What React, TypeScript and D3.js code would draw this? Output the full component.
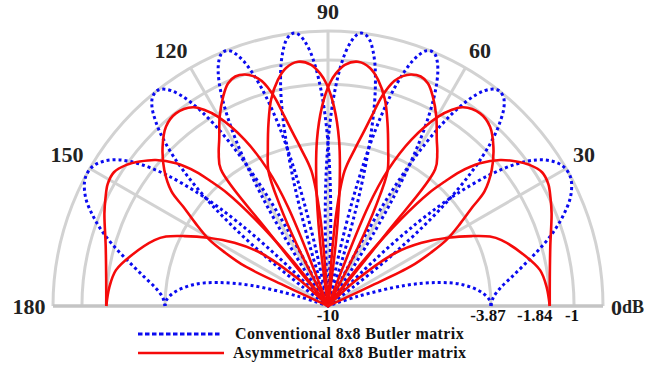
import React from 'react';
import * as d3 from 'd3';

// angles in degrees (0 = right, 90 = broadside), values in dB
const ANGLE_TICKS = [30, 60, 90, 120, 150, 180];
const RING_VALUES = [-3.87, -1.84, -1, 0];
const RING_LABEL_VALUES = [-10, -3.87, -1.84, -1];
const RING_LABELS = ['-10', '-3.87', '-1.84', '-1'];
const LEGEND = ['Conventional 8x8 Butler matrix', 'Asymmetrical 8x8 Butler matrix'];

// conventional matrix, beams 1R..4R and mirrored 1L..4L
const CONV_1R = [[72,-10],[73,-7.66],[74,-5.92],[75,-4.53],[76,-3.35],[77,-2.38],[78,-1.62],[79,-1.0],[80,-0.55],[81,-0.22],[82,-0.05],[83,0],[84,-0.09],[85,-0.33],[86,-0.69],[87,-1.22],[88,-1.92],[89,-2.79],[90,-3.87],[91,-5.2],[92,-6.84],[93,-8.9],[93.6,-10]];
const CONV_1L = [[86.4,-10],[87,-8.9],[88,-6.84],[89,-5.2],[90,-3.87],[91,-2.79],[92,-1.92],[93,-1.22],[94,-0.69],[95,-0.33],[96,-0.09],[97,0],[98,-0.05],[99,-0.22],[100,-0.55],[101,-1.0],[102,-1.62],[103,-2.38],[104,-3.35],[105,-4.53],[106,-5.92],[107,-7.66],[108,-10]];
const CONV_2R = [[55.95,-10],[57,-7.92],[58,-6.35],[59,-5.02],[60,-3.87],[61,-2.91],[62,-2.12],[63,-1.46],[64,-0.93],[65,-0.52],[66,-0.23],[67,-0.05],[68,0],[69,-0.06],[70,-0.25],[71,-0.56],[72,-1.01],[73,-1.6],[74,-2.35],[75,-3.29],[76,-4.49],[77,-5.86],[78,-7.62],[79.05,-10]];
const CONV_2L = [[100.95,-10],[102,-7.62],[103,-5.86],[104,-4.49],[105,-3.29],[106,-2.35],[107,-1.6],[108,-1.01],[109,-0.56],[110,-0.25],[111,-0.06],[112,0],[113,-0.05],[114,-0.23],[115,-0.52],[116,-0.93],[117,-1.46],[118,-2.12],[119,-2.91],[120,-3.87],[121,-5.02],[122,-6.35],[123,-7.92],[124.05,-10]];
const CONV_3R = [[35.9,-10],[37,-8.4],[38,-7.15],[39,-6.07],[40,-5.1],[41,-4.2],[42,-3.43],[43,-2.73],[44,-2.11],[45,-1.58],[46,-1.13],[47,-0.77],[48,-0.45],[49,-0.22],[50,-0.07],[51.3,0],[52,-0.02],[53,-0.12],[54,-0.31],[55,-0.6],[56,-1.0],[57,-1.51],[58,-2.14],[59,-2.92],[60,-3.87],[61,-5.04],[62,-6.41],[63,-8.1],[63.9,-10]];
const CONV_3L = [[116.1,-10],[117,-8.1],[118,-6.41],[119,-5.04],[120,-3.87],[121,-2.92],[122,-2.14],[123,-1.51],[124,-1.0],[125,-0.6],[126,-0.31],[127,-0.12],[128,-0.02],[128.7,0],[130,-0.07],[131,-0.22],[132,-0.45],[133,-0.77],[134,-1.13],[135,-1.58],[136,-2.11],[137,-2.73],[138,-3.43],[139,-4.2],[140,-5.1],[141,-6.07],[142,-7.15],[143,-8.4],[144.1,-10]];
const CONV_4R = [[0,-3.87],[3,-3.78],[6,-3.51],[9,-3.07],[12,-2.55],[15,-1.95],[18,-1.34],[21,-0.8],[24,-0.34],[27,-0.06],[29,0],[31,-0.07],[33,-0.3],[35,-0.7],[37,-1.35],[39,-2.28],[41,-3.56],[42,-4.38],[43,-5.32],[44,-6.43],[45,-7.72],[46,-9.3],[46.4,-10],[160,-10],[162,-8.43],[165,-6.76],[168,-5.6],[171,-4.79],[175,-4.16],[178,-3.91],[180,-3.87]];
const CONV_4L = [[0,-3.87],[2,-3.91],[5,-4.16],[9,-4.79],[12,-5.6],[15,-6.76],[18,-8.43],[20,-10],[133.6,-10],[134,-9.3],[135,-7.72],[136,-6.43],[137,-5.32],[138,-4.38],[139,-3.56],[141,-2.28],[143,-1.35],[145,-0.7],[147,-0.3],[149,-0.07],[151,0],[153,-0.06],[156,-0.34],[159,-0.8],[162,-1.34],[165,-1.95],[168,-2.55],[171,-3.07],[174,-3.51],[177,-3.78],[180,-3.87]];

// asymmetrical matrix
const ASYM_1R = [[61.5,-10],[63,-7.2],[64.5,-5.6],[66.2,-4.4],[69,-3.7],[72,-2.85],[74.6,-2.1],[77.5,-1.5],[80,-1.15],[83,-1.0],[86,-1.15],[88,-1.45],[89.6,-1.82],[91.7,-2.6],[93.8,-3.75],[95.5,-5.3],[97,-7.2],[98.5,-10]];
const ASYM_1L = [[81.5,-10],[83,-7.2],[84.5,-5.3],[86.2,-3.75],[88.3,-2.6],[90.4,-1.82],[92,-1.45],[94,-1.15],[97,-1.0],[100,-1.15],[102.5,-1.5],[105.4,-2.1],[108,-2.85],[111,-3.7],[113.8,-4.4],[115.5,-5.6],[117,-7.2],[118.5,-10]];
const ASYM_2R = [[50.5,-10],[51.2,-6.2],[51.9,-3.5],[54.5,-3.0],[56.9,-2.62],[60.2,-1.97],[63.4,-1.41],[65.8,-1.07],[68,-0.95],[70.2,-1.0],[72,-1.15],[73.6,-1.4],[75.5,-2.0],[77,-2.75],[78.5,-3.4],[80.3,-4.0],[83,-4.8],[85,-6.4],[87,-10]];
const ASYM_2L = [[93,-10],[95,-6.4],[97,-4.8],[99.7,-4.0],[101.5,-3.4],[103,-2.75],[104.5,-2.0],[106.4,-1.4],[108,-1.15],[109.8,-1.0],[112,-0.95],[114.2,-1.07],[116.6,-1.41],[119.8,-1.97],[123.1,-2.62],[125.5,-3.0],[128.1,-3.5],[128.8,-6.2],[129.5,-10]];
const ASYM_3R = [[24,-10],[25,-7.9],[25.6,-6.3],[27.4,-5.5],[29.2,-4.8],[32,-4.1],[34.4,-3.45],[36.2,-2.8],[39.7,-2.15],[43.9,-1.57],[47.9,-1.15],[51.7,-1.02],[55.8,-1.2],[57.8,-1.5],[59.8,-1.93],[63.4,-3.08],[66.2,-4.37],[68,-5.8],[70,-10]];
const ASYM_3L = [[110,-10],[112,-5.8],[113.8,-4.37],[116.6,-3.08],[120.2,-1.93],[122.2,-1.5],[124.2,-1.2],[128.3,-1.02],[132.1,-1.15],[136.1,-1.57],[140.3,-2.15],[143.8,-2.8],[145.6,-3.45],[148,-4.1],[150.8,-4.8],[152.6,-5.5],[154.4,-6.3],[155,-7.9],[156,-10]];
const ASYM_4R = [[0,-1.84],[7,-1.78],[15,-1.55],[22.5,-1.14],[26,-0.95],[29,-0.8],[32,-0.78],[35,-1.0],[37.5,-1.3],[40.3,-1.7],[43.2,-2.3],[45.5,-3.0],[46.8,-3.6],[48.2,-4.25],[50,-5.6],[52,-7.5],[54,-10],[135,-10],[137.5,-8.2],[141.7,-6.56],[146,-5.6],[150.4,-4.73],[154,-3.99],[156.8,-3.41],[159.2,-3.09],[165.4,-2.5],[170.4,-2.07],[175,-1.92],[180,-1.84]];
const ASYM_4L = [[0,-1.84],[5,-1.92],[9.6,-2.07],[14.6,-2.5],[20.8,-3.09],[23.2,-3.41],[26,-3.99],[29.6,-4.73],[34,-5.6],[38.3,-6.56],[42.5,-8.2],[45,-10],[126,-10],[128,-7.5],[130,-5.6],[131.8,-4.25],[133.2,-3.6],[134.5,-3.0],[136.8,-2.3],[139.7,-1.7],[142.5,-1.3],[145,-1.0],[148,-0.78],[151,-0.8],[154,-0.95],[157.5,-1.14],[165,-1.55],[173,-1.78],[180,-1.84]];

const CONVENTIONAL = [CONV_1R, CONV_1L, CONV_2R, CONV_2L, CONV_3R, CONV_3L, CONV_4R, CONV_4L];
const ASYMMETRICAL = [ASYM_1R, ASYM_1L, ASYM_2R, ASYM_2L, ASYM_3R, ASYM_3L, ASYM_4R, ASYM_4L];

const W = 658;
const H = 366;
const CX = 328;
const CY = 306;
const R = 275;
const FONT = '"Liberation Serif", "Times New Roman", serif';
const BLUE = '#0a0af0';
const RED = '#f50a0a';
const GRID = '#d2d2d2';

export default function App() {
  const rScale = d3.scaleLinear().domain([-9.5, 0]).range([0, R]).clamp(true);
  const toAngle = (deg: number) => ((90 - deg) * Math.PI) / 180;
  const rad = (deg: number) => (deg * Math.PI) / 180;

  const beamLine = d3.lineRadial<number[]>()
    .angle(d => toAngle(d[0]))
    .radius(d => rScale(d[1]))
    .curve(d3.curveCatmullRom.alpha(0.5));

  const ring = d3.arc();

  // small hand nudges so the labels sit where the original put them
  const angleNudge = [[-2, -3], [3, 2], [0, 3], [-8, 2], [-3, -3], [-1, 0]];
  const labelNudge = [0, -3, -15, -2];

  return (
    <svg width={W} height={H} style={{ position: 'absolute', left: 0, top: 0 }} fontFamily={FONT}>
      <rect width={W} height={H} fill="#fff" />
      <g transform={`translate(${CX},${CY})`}>
        {RING_VALUES.map((v, i) => (
          <path
            key={'ring' + i}
            d={ring({ innerRadius: rScale(v), outerRadius: rScale(v), startAngle: -Math.PI / 2, endAngle: Math.PI / 2 } as any) || ''}
            fill="none"
            stroke={GRID}
            strokeWidth={3}
          />
        ))}
        {ANGLE_TICKS.slice(0, 5).map(a => (
          <line
            key={'spoke' + a}
            x1={0}
            y1={0}
            x2={R * Math.cos(rad(a))}
            y2={-R * Math.sin(rad(a))}
            stroke={GRID}
            strokeWidth={3}
          />
        ))}
        <line x1={-R} y1={0} x2={R} y2={0} stroke="#c4c4c4" strokeWidth={3.5} />

        {CONVENTIONAL.map((b, i) => (
          <path key={'c' + i} d={beamLine(b) || ''} fill="none" stroke={BLUE} strokeWidth={3} strokeDasharray="3 3" />
        ))}
        {ASYMMETRICAL.map((b, i) => (
          <path key={'a' + i} d={beamLine(b) || ''} fill="none" stroke={RED} strokeWidth={2.6} />
        ))}

        {ANGLE_TICKS.map((a, i) => (
          <text
            key={'al' + a}
            x={298 * Math.cos(rad(a)) + angleNudge[i][0]}
            y={-298 * Math.sin(rad(a)) + angleNudge[i][1]}
            dy="0.35em"
            textAnchor="middle"
            fontSize={22}
            fontWeight="bold"
            fill="#222"
          >
            {a}
          </text>
        ))}
        <text x={rScale(0) + 8} y={9} fontWeight="bold" fill="#222">
          <tspan fontSize={22}>0</tspan>
          <tspan fontSize={18} dy={-2}>dB</tspan>
        </text>

        {RING_LABELS.map((t, i) => (
          <text
            key={'rl' + i}
            x={rScale(RING_LABEL_VALUES[i]) + labelNudge[i]}
            y={15}
            textAnchor="middle"
            fontSize={17}
            fontWeight="bold"
            fill="#111"
          >
            {t}
          </text>
        ))}
      </g>

      <g>
        <line x1={138} y1={334} x2={221} y2={334} stroke={BLUE} strokeWidth={3} strokeDasharray="4.5 2.5" />
        <text x={235} y={339} fontSize={16} letterSpacing={0.4} fontWeight="bold" fill="#111">{LEGEND[0]}</text>
        <line x1={138} y1={353} x2={224} y2={353} stroke={RED} strokeWidth={2.6} />
        <text x={233} y={358} fontSize={16} letterSpacing={0.4} fontWeight="bold" fill="#111">{LEGEND[1]}</text>
      </g>
    </svg>
  );
}
